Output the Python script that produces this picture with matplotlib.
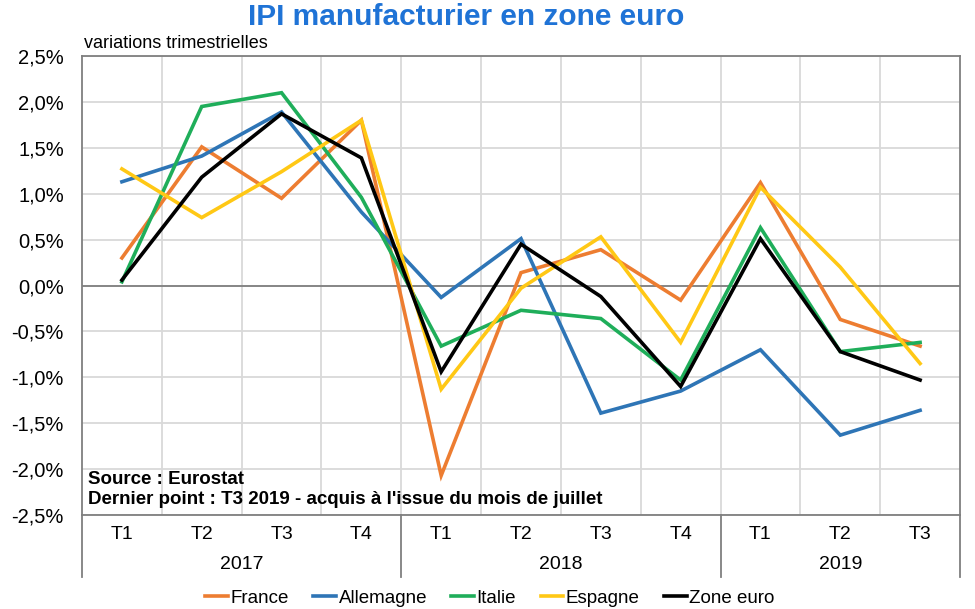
# %%
# Load imports
import matplotlib.pyplot as plt
from matplotlib.lines import Line2D
from matplotlib.ticker import FuncFormatter
import matplotlib.transforms as mtransforms

# %%
# Data (variations trimestrielles, en %)
quarters = ['T1', 'T2', 'T3', 'T4', 'T1', 'T2', 'T3', 'T4', 'T1', 'T2', 'T3']
years = ['2017', '2018', '2019']
year_sizes = [4, 4, 3]

france = [0.30, 1.51, 0.95, 1.80, -2.07, 0.14, 0.39, -0.16, 1.12, -0.37, -0.66]
allemagne = [1.13, 1.41, 1.89, 0.80, -0.13, 0.51, -1.39, -1.15, -0.70, -1.63, -1.36]
italie = [0.04, 1.95, 2.10, 0.96, -0.66, -0.27, -0.36, -1.03, 0.63, -0.72, -0.62]
espagne = [1.27, 0.74, 1.24, 1.80, -1.13, -0.03, 0.53, -0.62, 1.07, 0.20, -0.85]
zone_euro = [0.06, 1.18, 1.87, 1.39, -0.94, 0.45, -0.12, -1.10, 0.51, -0.72, -1.03]

series = {
    'France': (france, '#ED7D31'),
    'Allemagne': (allemagne, '#2E75B6'),
    'Italie': (italie, '#1FAE5A'),
    'Espagne': (espagne, '#FFC815'),
    'Zone euro': (zone_euro, '#000000'),
}

# %%
plt.rcParams['font.family'] = ['Liberation Sans', 'DejaVu Sans']

fig = plt.figure(figsize=(9.75, 6.09), dpi=100)
ax = fig.add_axes([82 / 975, 1 - 515 / 609, 878 / 975, 459 / 609])

x = list(range(len(quarters)))
for name, (vals, color) in series.items():
    ax.plot(x, vals, color=color, lw=2.6, label=name, solid_joinstyle='miter')

# Axes limits and grid
ax.set_xlim(-0.5, len(quarters) - 0.5)
ax.set_ylim(-2.5, 2.5)
ax.set_yticks([i * 0.5 for i in range(-5, 6)])
ax.yaxis.set_major_formatter(FuncFormatter(lambda v, p: f"{v:.1f}%".replace('.', ',')))
ax.tick_params(axis='y', length=0, labelsize=14.5, pad=13)
ax.set_xticks([])
for xb in [i + 0.5 for i in range(len(quarters) - 1)]:
    ax.axvline(xb, color='#D9D9D9', lw=1.3, zorder=0)
for yv in ax.get_yticks():
    ax.axhline(yv, color='#D9D9D9', lw=1.3, zorder=0)
ax.axhline(0, color='#7F7F7F', lw=1.3, zorder=1)
for sp in ax.spines.values():
    sp.set_color('#7F7F7F')
    sp.set_linewidth(1.3)

# Two-level category axis
trans = mtransforms.blended_transform_factory(ax.transData, ax.transAxes)
for i, q in enumerate(quarters):
    ax.text(i, -0.043, q, transform=trans, ha='center', va='center', fontsize=14)
start = 0
bounds = [-0.5]
for yr, n in zip(years, year_sizes):
    ax.text(start + (n - 1) / 2, -0.108, yr, transform=trans, ha='center', va='center', fontsize=14)
    start += n
    bounds.append(start - 0.5)
for b in bounds:
    ax.add_line(Line2D([b, b], [0, -0.135], transform=trans, color='#7F7F7F', lw=1.3, clip_on=False))

# Titles and notes
fig.text(466 / 975, 1 - 17 / 609, 'IPI manufacturier en zone euro', ha='center', va='center',
         fontsize=21.5, fontweight='bold', color='#1F73D6')
fig.text(84 / 975, 1 - 43 / 609, 'variations trimestrielles', ha='left', va='center', fontsize=13)
ax.text(0.007, 0.078, 'Source : Eurostat', transform=ax.transAxes,
        ha='left', va='center', fontsize=13.5, fontweight='bold')
ax.text(0.007, 0.034, "Dernier point : T3 2019 - acquis à l'issue du mois de juillet",
        transform=ax.transAxes, ha='left', va='center', fontsize=13.5, fontweight='bold')

# Legend
fig.legend(loc='center', bbox_to_anchor=(490 / 975, 1 - 598 / 609), ncol=5, frameon=False,
           fontsize=13.5, handlelength=1.2, handletextpad=0.15, columnspacing=1.3)

fig.savefig('out.png', dpi=100)
